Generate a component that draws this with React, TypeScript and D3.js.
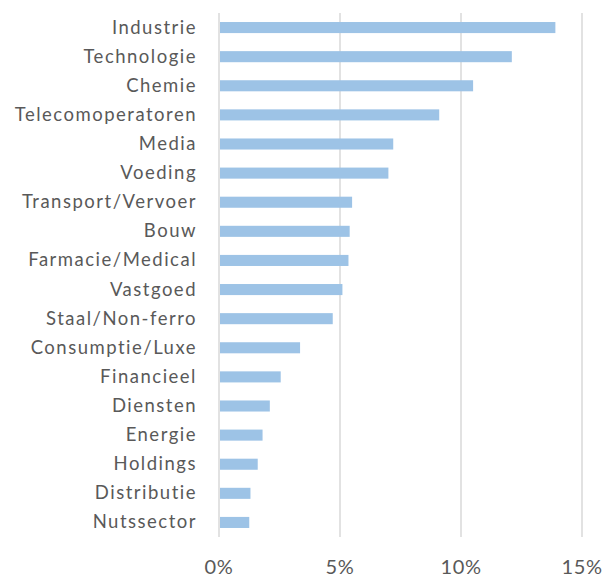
import React from "react";
import * as d3 from "d3";

const categories = [
  "Industrie",
  "Technologie",
  "Chemie",
  "Telecomoperatoren",
  "Media",
  "Voeding",
  "Transport/Vervoer",
  "Bouw",
  "Farmacie/Medical",
  "Vastgoed",
  "Staal/Non-ferro",
  "Consumptie/Luxe",
  "Financieel",
  "Diensten",
  "Energie",
  "Holdings",
  "Distributie",
  "Nutssector",
];
const values = [13.9, 12.1, 10.5, 9.1, 7.2, 7.0, 5.5, 5.4, 5.35, 5.1, 4.7, 3.35, 2.55, 2.1, 1.8, 1.6, 1.3, 1.25];
const ticks = [0, 5, 10, 15];
const tickLabels = ["0%", "5%", "10%", "15%"];

const W = 608;
const H = 576;
const FONT = "Lato, sans-serif";
const TEXT = "#595959";

export default function App() {
  const x = d3.scaleLinear().domain([0, 15]).range([219, 582]);
  const y = d3
    .scaleBand<string>()
    .domain(categories)
    .range([13, 537])
    .paddingInner(0.62)
    .paddingOuter(0.31);

  return (
    <svg
      width={W}
      height={H}
      style={{ position: "absolute", left: 0, top: 0, background: "#fff" }}
    >
      {ticks.map((t) => (
        <line
          key={"g" + t}
          x1={x(t)}
          x2={x(t)}
          y1={13}
          y2={537}
          stroke="#d9d9d9"
          strokeWidth={1.5}
        />
      ))}
      {categories.map((c, i) => (
        <rect
          key={c}
          x={x(0) + 1}
          y={y(c)!}
          width={x(values[i]) - x(0) - 1}
          height={y.bandwidth()}
          fill="#9dc3e6"
        />
      ))}
      {categories.map((c) => (
        <text
          key={"l" + c}
          x={197}
          y={y(c)! + y.bandwidth() / 2 + 6}
          textAnchor="end"
          fontFamily={FONT}
          fontSize={18.5}
          fontWeight={400}
          letterSpacing={1.5}
          fill={TEXT}
        >
          {c}
        </text>
      ))}
      {ticks.map((t, i) => (
        <text
          key={"t" + t}
          x={x(t)}
          y={574}
          textAnchor="middle"
          fontFamily={FONT}
          fontSize={20}
          fontWeight={400}
          letterSpacing={0.6}
          fill={TEXT}
        >
          {tickLabels[i]}
        </text>
      ))}
    </svg>
  );
}
